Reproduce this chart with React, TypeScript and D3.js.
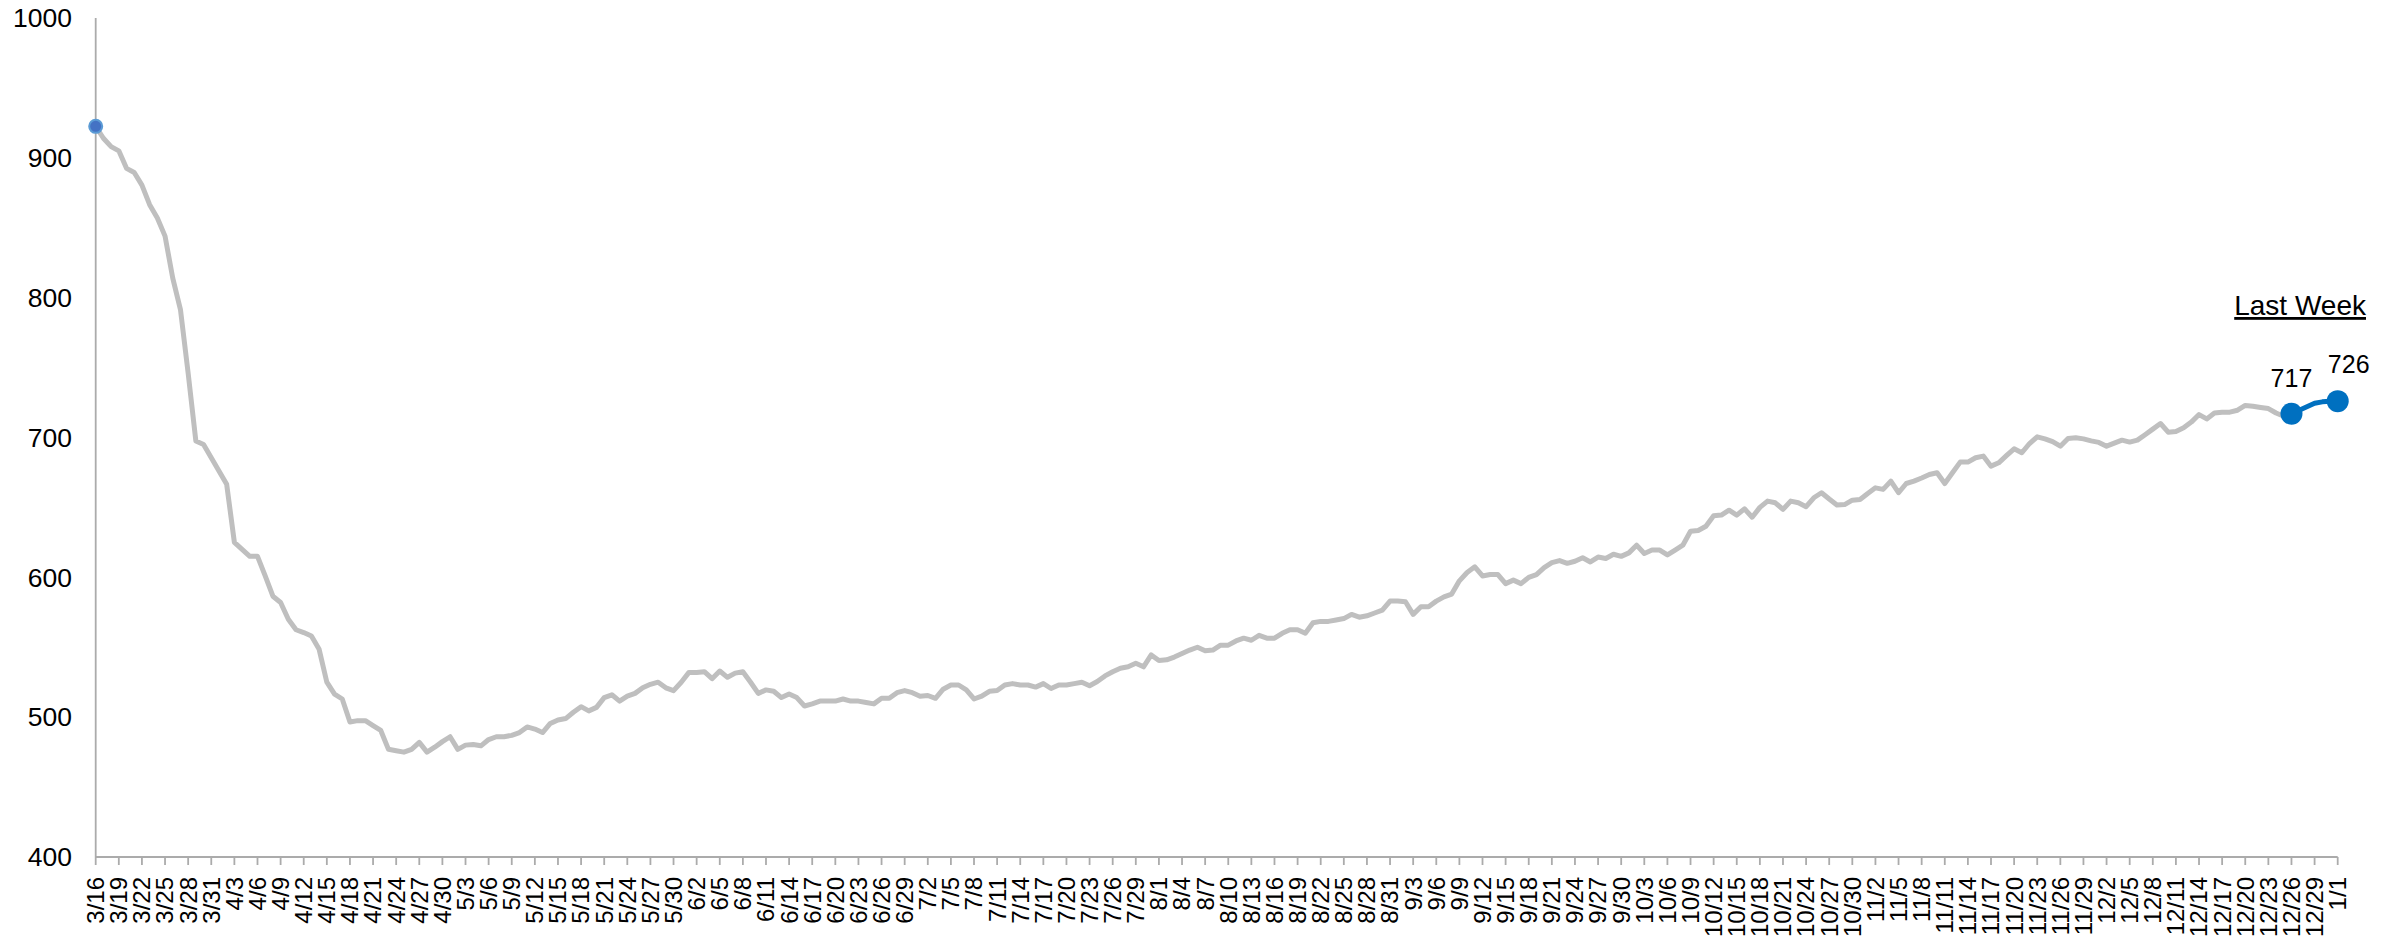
import React from 'react';
import * as d3 from 'd3';

// Daily series, 3/16 through 1/1 (one value per day)
const startDate = new Date(2020, 2, 16);
const values: number[] = [
  922.5, 914, 908, 905, 892.5, 889.5, 880.5, 866.5, 857, 844,
  814, 791.5, 746, 697.5, 695, 685.5, 676, 666.5, 625, 620,
  615, 615, 601, 586.5, 582, 570, 562.5, 560.5, 558, 548.5,
  525, 516.5, 513, 496.5, 497.5, 497.5, 494, 490.5, 477, 476,
  475, 477, 482, 475, 478.5, 482.5, 486, 477, 480, 480.5,
  479.5, 484, 486, 486, 487, 489, 493, 491.5, 489, 495.5,
  498, 499, 503.5, 507.5, 504.5, 507, 514, 516, 511.5, 515,
  517, 521, 523.5, 525, 521, 519, 525, 532, 532, 532.5,
  527.5, 533, 528.5, 531.5, 532.5, 525, 517, 519.5, 518.5, 514,
  516.5, 514, 508, 509.5, 511.5, 511.5, 511.5, 513, 511.5, 511.5,
  510.5, 509.5, 513.5, 513.5, 517.5, 519, 517.5, 515, 515.5, 513.5,
  520, 523, 523, 519.5, 513, 515, 518.5, 519, 523, 524,
  523, 523, 521.5, 524, 520.5, 523, 523, 524, 525, 522.5,
  525.5, 529.5, 532.5, 535, 536, 538.5, 536, 544.5, 540.5, 541,
  543, 545.5, 548, 550, 547.5, 548, 551.5, 551.5, 554.5, 556.5,
  555, 558.5, 556.5, 556.5, 560, 562.5, 562.5, 560, 567.5, 568.5,
  568.5, 569.5, 570.5, 573.5, 571.5, 572.5, 574.5, 576.5, 583, 583,
  582.5, 573.5, 579, 579, 583, 586, 588, 597.5, 603.5, 607.5,
  601, 602, 602, 595.5, 598, 595.5, 600, 602, 607, 610.5,
  612, 610, 611.5, 614, 611, 614.5, 613.5, 616.5, 615, 617.5,
  623, 617, 619.5, 619.5, 616, 619.5, 623, 633, 633.5, 636.5,
  644, 644.5, 648, 644.5, 649, 643, 650, 654.5, 653.3, 648.6,
  654.5, 653.3, 650.5, 656.9, 660.5, 656, 651.7, 652, 655.2, 655.7,
  660, 664, 662.9, 668.8, 660.5, 667.1, 668.8, 671, 673.5, 674.8,
  667.1, 674.8, 682.4, 682.4, 685.5, 686.7, 679.5, 681.9, 687, 691.9,
  689.1, 695.7, 700.5, 699, 697, 693.8, 699.3, 699.8, 699, 697.6,
  696.5, 693.8, 696, 698.1, 696.7, 698.1, 702, 706, 710, 703.8,
  704.3, 706.9, 711, 716.4, 713.3, 717.5, 718.1, 718.1, 719.5, 722.9,
  722.4, 721.5, 720.7, 717.5, 715.2, 717,
  719.5, 722, 724.5, 725.5, 726, 726,
];
const lastWeekStart = 285;
const yTicks = [400, 500, 600, 700, 800, 900, 1000];
const tickEvery = 3;
const lastWeekTitle = 'Last Week';

const FONT = '"Liberation Sans", Arial, sans-serif';

export default function App() {
  const W = 2402;
  const H = 938;
  const x = d3.scaleLinear().domain([0, values.length - 1]).range([95.7, 2337.7]);
  const y = d3.scaleLinear().domain([400, 1000]).range([857, 18]);

  const grayLine = d3
    .line<number>()
    .x((_, i) => x(i))
    .y((d) => y(d));
  const blueLine = d3
    .line<number>()
    .x((_, i) => x(i + lastWeekStart))
    .y((d) => y(d));

  const grayPath = grayLine(values.slice(0, lastWeekStart + 1)) || '';
  const bluePath = blueLine(values.slice(lastWeekStart)) || '';

  const fmt = d3.timeFormat('%-m/%-d');
  const tickIdx = d3.range(0, values.length, tickEvery);
  const dateAt = (i: number) => d3.timeDay.offset(startDate, i);

  const firstIdx = lastWeekStart;
  const lastIdx = values.length - 1;
  const axisColor = '#ABABAB';

  return (
    <div style={{ position: 'absolute', left: 0, top: 0 }}>
      <svg width={W} height={H} style={{ display: 'block', background: '#fff' }} fontFamily={FONT}>
        {/* y axis */}
        <line x1={x(0)} x2={x(0)} y1={y(1000)} y2={y(400)} stroke={axisColor} strokeWidth={1.8} />
        {yTicks.map((t) => (
          <text key={t} x={72} y={y(t)} dy="0.35em" textAnchor="end" fontSize={26.5} fill="#000">
            {t}
          </text>
        ))}
        {/* x axis */}
        <line x1={x(0)} x2={x(lastIdx)} y1={y(400)} y2={y(400)} stroke={axisColor} strokeWidth={1.8} />
        {tickIdx.map((i) => (
          <g key={i}>
            <line x1={x(i)} x2={x(i)} y1={y(400)} y2={y(400) + 8} stroke={axisColor} strokeWidth={1.8} />
            <text
              transform={`translate(${x(i)},${y(400) + 20}) rotate(-90)`}
              dy="0.35em"
              textAnchor="end"
              fontSize={24}
              fill="#000"
            >
              {fmt(dateAt(i))}
            </text>
          </g>
        ))}
        {/* series */}
        <path d={grayPath} fill="none" stroke="#BFBFBF" strokeWidth={5} strokeLinejoin="round" />
        <path d={bluePath} fill="none" stroke="#0070C0" strokeWidth={5} strokeLinejoin="round" />
        <circle cx={x(0)} cy={y(values[0])} r={6.5} fill="#4472C4" stroke="#5B9BD5" strokeWidth={2} />
        <circle cx={x(firstIdx)} cy={y(values[firstIdx])} r={11} fill="#0070C0" />
        <circle cx={x(lastIdx)} cy={y(values[lastIdx])} r={11} fill="#0070C0" />
        <text x={x(firstIdx)} y={y(values[firstIdx]) - 27} textAnchor="middle" fontSize={25} fill="#000">
          {Math.round(values[firstIdx])}
        </text>
        <text x={x(lastIdx) + 11} y={y(values[lastIdx]) - 28} textAnchor="middle" fontSize={25} fill="#000">
          {Math.round(values[lastIdx])}
        </text>
        <text x={2366} y={315} textAnchor="end" fontSize={28} fill="#000" textDecoration="underline">
          {lastWeekTitle}
        </text>
      </svg>
    </div>
  );
}
